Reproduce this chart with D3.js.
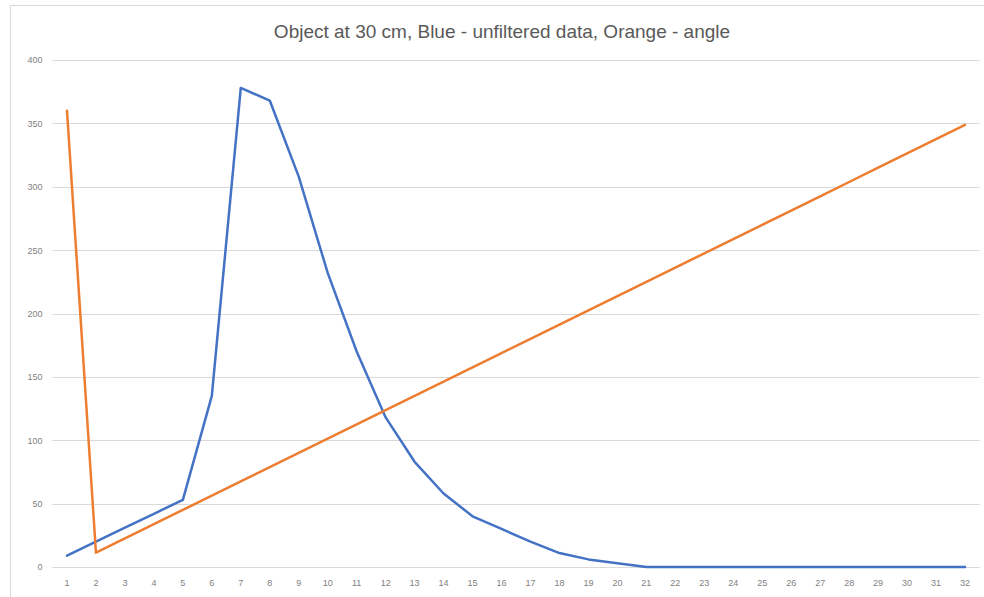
<!DOCTYPE html>
<html><head><meta charset="utf-8">
<script src="https://cdn.jsdelivr.net/npm/d3@7"></script>
<style>body{margin:0;background:#fff;font-family:"Liberation Sans",Arial,sans-serif}</style>
</head><body><svg id="c" width="984" height="597"></svg>
<script>
const categories = [1,2,3,4,5,6,7,8,9,10,11,12,13,14,15,16,17,18,19,20,21,22,23,24,25,26,27,28,29,30,31,32];
const blueValues = [9,20,31,42,53,135,378,368,308,232,170,118,83,58,40,30,20,11,6,3,0,0,0,0,0,0,0,0,0,0,0,0];
const orangeValues = [360,11.25,22.5,33.75,45,56.25,67.5,78.75,90,101.25,112.5,123.75,135,146.25,157.5,168.75,180,191.25,202.5,213.75,225,236.25,247.5,258.75,270,281.25,292.5,303.75,315,326.25,337.5,348.75];
const yTicks = [0,50,100,150,200,250,300,350,400];
const title = "Object at 30 cm, Blue - unfiltered data, Orange - angle";

(function(){
const svg = d3.select("#c");
const pL = 52.5, pR = 979.5, pT = 60, pB = 567;
svg.append("rect").attr("x",10.5).attr("y",5.5).attr("width",990).attr("height",600).attr("fill","#fff").attr("stroke","#d9d9d9");

const x = d3.scaleBand().domain(categories).range([pL,pR]);
const y = d3.scaleLinear().domain([0,400]).range([pB,pT]);

svg.append("g").selectAll("line").data(yTicks).join("line")
  .attr("x1",pL).attr("x2",pR)
  .attr("y1",d=>Math.round(y(d))+0.5).attr("y2",d=>Math.round(y(d))+0.5)
  .attr("stroke","#d9d9d9").attr("stroke-width",1);

const yAxis = svg.append("g").attr("transform",`translate(${pL-8},0)`)
  .call(d3.axisLeft(y).tickValues(yTicks).tickSize(0).tickPadding(2));
yAxis.select(".domain").remove();
yAxis.selectAll("text").attr("fill","#7f7f7f").attr("font-size",9).attr("font-family","Liberation Sans, Arial, sans-serif");

const xAxis = svg.append("g").attr("transform",`translate(0,${pB})`)
  .call(d3.axisBottom(x).tickSize(0).tickPadding(13));
xAxis.select(".domain").remove();
xAxis.selectAll("text").attr("fill","#7f7f7f").attr("font-size",9).attr("font-family","Liberation Sans, Arial, sans-serif");

const line = d3.line().x((d,i)=>x(categories[i])+x.bandwidth()/2).y(d=>y(d));
svg.append("path").datum(blueValues).attr("d",line).attr("fill","none")
  .attr("stroke","#4472C4").attr("stroke-width",2.5).attr("stroke-linejoin","round").attr("stroke-linecap","round");
svg.append("path").datum(orangeValues).attr("d",line).attr("fill","none")
  .attr("stroke","#ED7D31").attr("stroke-width",2.5).attr("stroke-linejoin","round").attr("stroke-linecap","round");

svg.append("text").attr("x",502).attr("y",38).attr("text-anchor","middle")
  .attr("font-size",19).attr("fill","#595959").attr("font-family","Liberation Sans, Arial, sans-serif").text(title);
})();
</script></body></html>
